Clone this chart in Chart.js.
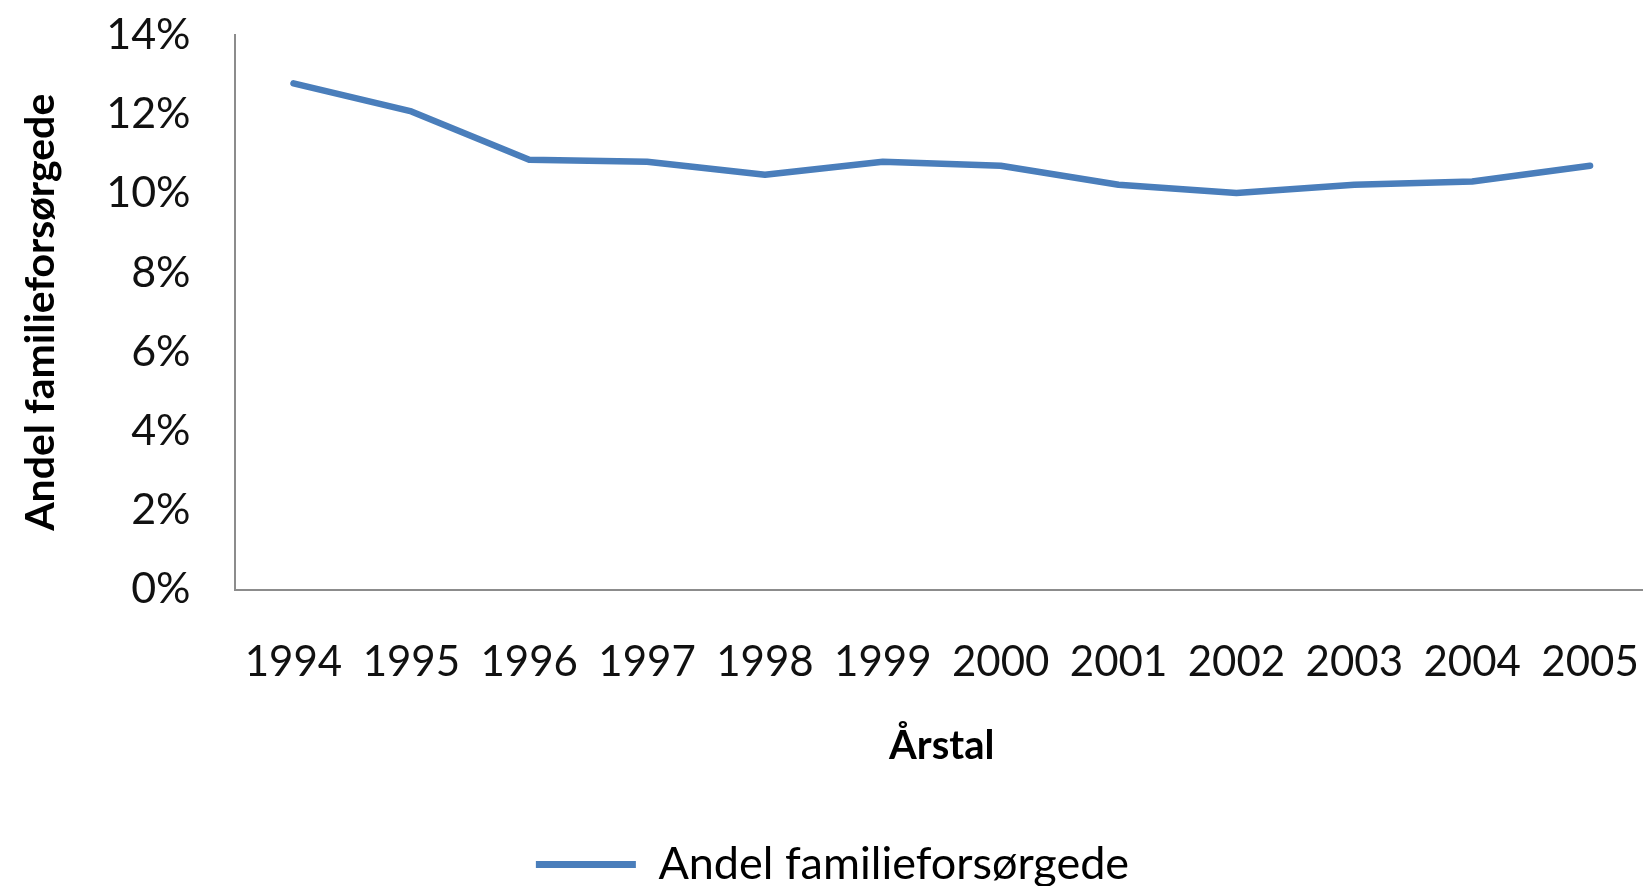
<!DOCTYPE html>
<html>
<head>
<meta charset="utf-8">
<script src="https://cdn.jsdelivr.net/npm/chart.js@4.4.1/dist/chart.umd.min.js"></script>
<style>
  html, body { margin: 0; padding: 0; background: #fff; overflow: hidden; }
  #wrap { position: absolute; left: 0; top: 0; width: 1658px; height: 897px; }
</style>
</head>
<body>
<div id="wrap"><canvas id="chart"></canvas></div>
<script>
const years = ['1994', '1995', '1996', '1997', '1998', '1999', '2000', '2001', '2002', '2003', '2004', '2005'];
const andel = [12.78, 12.07, 10.85, 10.8, 10.47, 10.8, 10.7, 10.22, 10.01, 10.22, 10.3, 10.7];
const seriesName = 'Andel familieforsørgede';
const xTitle = 'Årstal';
const yTitle = 'Andel familieforsørgede';

const blue = '#4a7ebb';
const axisGrey = '#8c8c8c';
const fontFamily = 'Lato, "Open Sans", sans-serif';

// tick marks are hidden (grid off) but tickLength still spaces the labels
const ctx = document.getElementById('chart').getContext('2d');
const chart = new Chart(ctx, {
  type: 'line',
  data: {
    labels: years,
    datasets: [{
      label: seriesName,
      data: andel,
      borderColor: blue,
      backgroundColor: blue,
      borderWidth: 6.5,
      pointRadius: 0,
      tension: 0,
      borderCapStyle: 'round',
      borderJoinStyle: 'round'
    }]
  },
  options: {
    responsive: true,
    maintainAspectRatio: false,
    animation: false,
    layout: { padding: { top: 35, left: 16, right: 9, bottom: 0 } },
    plugins: {
      tooltip: { enabled: false },
      legend: {
        position: 'bottom',
        labels: {
          font: { family: fontFamily, size: 45 },
          color: '#111',
          boxWidth: 100,
          boxHeight: 7,
          useBorderRadius: true,
          borderRadius: 3,
          padding: 10,
          generateLabels: (c) => [{
            text: seriesName,
            fillStyle: blue,
            strokeStyle: blue,
            lineWidth: 0,
            datasetIndex: 0
          }]
        }
      }
    },
    scales: {
      x: {
        offset: true,
        grid: { display: false, drawTicks: true, tickLength: 48 },
        border: { display: true, color: axisGrey, width: 2 },
        ticks: {
          autoSkip: false,
          maxRotation: 0,
          padding: 0,
          color: '#111',
          font: { family: fontFamily, size: 42 }
        },
        title: {
          display: true,
          text: xTitle,
          color: '#000',
          font: { family: fontFamily, size: 40, weight: 'bold' },
          padding: { top: 34, bottom: 62 }
        }
      },
      y: {
        min: 0,
        max: 14,
        grid: { display: false, drawTicks: true, tickLength: 44 },
        border: { display: true, color: axisGrey, width: 2 },
        ticks: {
          stepSize: 2,
          padding: 0,
          color: '#111',
          font: { family: fontFamily, size: 43 },
          callback: (v) => v + '%'
        },
        title: {
          display: true,
          text: yTitle,
          color: '#000',
          font: { family: fontFamily, size: 41, weight: 'bold' },
          padding: { top: 0, bottom: 41 }
        }
      }
    }
  }
});
</script>
</body>
</html>
